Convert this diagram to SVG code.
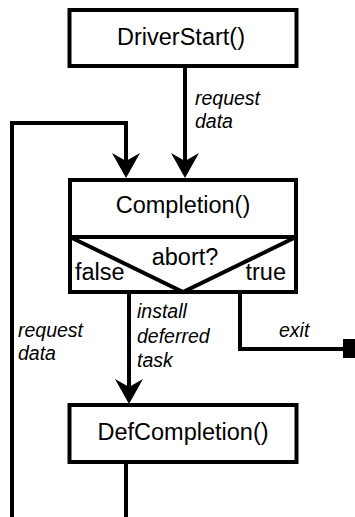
<svg xmlns="http://www.w3.org/2000/svg" xmlns:xlink="http://www.w3.org/1999/xlink" width="355" height="517" viewBox="0 0 355 517">
<style>
.box{fill:#fff;stroke:#000;stroke-width:4}
.ln{fill:none;stroke:#000;stroke-width:4}
.t{font-family:"Liberation Sans",Arial,sans-serif;font-size:23.5px;fill:#000}
.c{text-anchor:middle}
.l{font-family:"Liberation Sans",Arial,sans-serif;font-size:19.5px;font-style:italic;fill:#000}
</style>
<defs>
<path id="ah" d="M0,0 L-14,-25 L0,-17 L14,-25 Z" fill="#000"/>
</defs>
<rect width="355" height="517" fill="#fff"/>
<g id="connectors">
<path class="ln" d="M185,66 V162"/>
<use xlink:href="#ah" x="185" y="178"/>
<path class="ln" d="M12,517 V123 H126 V162"/>
<use xlink:href="#ah" x="126" y="178"/>
<path class="ln" d="M129,292 V388"/>
<use xlink:href="#ah" x="129" y="404"/>
<path class="ln" d="M240,292 V349 H345"/>
<rect x="343" y="339" width="14" height="19" fill="#000"/>
<path class="ln" d="M126,462 V517"/>
<text class="l" x="195" y="105">request</text>
<text class="l" x="195" y="128">data</text>
<text class="l" x="18" y="337">request</text>
<text class="l" x="18" y="360">data</text>
<text class="l" x="137" y="318">install</text>
<text class="l" x="137" y="343">deferred</text>
<text class="l" x="137" y="367">task</text>
<text class="l" x="279" y="337">exit</text>
</g>
<g id="DriverStart">
<rect class="box" x="69.5" y="10" width="227" height="56"/>
<text class="t c" x="181" y="45">DriverStart()</text>
</g>
<g id="Completion">
<rect class="box" x="70" y="180" width="226" height="112"/>
<path class="ln" d="M70,237 H296 M70,237 L183,292 L296,237"/>
<text class="t c" x="183" y="213">Completion()</text>
<text class="t c" x="185" y="265">abort?</text>
<text class="t" x="75" y="280">false</text>
<text class="t" x="286" y="280" text-anchor="end">true</text>
</g>
<g id="DefCompletion">
<rect class="box" x="69.5" y="405" width="227" height="57"/>
<text class="t c" x="183" y="440">DefCompletion()</text>
</g>
</svg>
